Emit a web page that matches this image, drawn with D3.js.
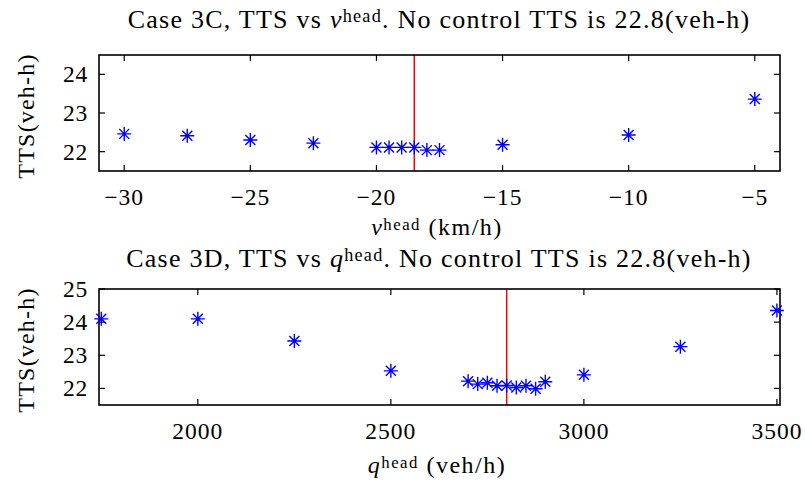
<!DOCTYPE html>
<html><head><meta charset="utf-8">
<script src="https://cdn.jsdelivr.net/npm/d3@7"></script>
<style>body{margin:0;background:#fff}svg{display:block}</style></head>
<body>
<svg id="c" width="805" height="481"></svg>
<script>
// ---- data ----
const vHead = [-30, -27.5, -25, -22.5, -20, -19.5, -19, -18.5, -18, -17.5, -15, -10, -5];
const ttsV  = [22.46, 22.41, 22.30, 22.22, 22.11, 22.11, 22.11, 22.11, 22.04, 22.04, 22.18, 22.43, 23.36];
const qHead = [1750, 2000, 2250, 2500, 2700, 2725, 2750, 2775, 2800, 2825, 2850, 2875, 2900, 3000, 3250, 3500];
const ttsQ  = [24.10, 24.10, 23.43, 22.53, 22.22, 22.13, 22.17, 22.08, 22.09, 22.03, 22.08, 21.99, 22.20, 22.41, 23.26, 24.35];
const vTicks = [-30, -25, -20, -15, -10, -5];
const qTicks = [2000, 2500, 3000, 3500];
const yTicksTop = [22, 23, 24];
const yTicksBot = [22, 23, 24, 25];
const vOpt = -18.5;
const qOpt = 2800;
const noControlTTS = 22.8;

const svg = d3.select("#c");
const FONT = "'Liberation Serif', 'Times New Roman', serif";

function richText(sel, parts) {
  parts.forEach(p => {
    const t = sel.append("tspan").text(p.t);
    if (p.i) t.attr("font-style", "italic");
    if (p.sup) t.attr("font-size", "70%").attr("baseline-shift", "32%");
  });
}

function panel(o) {
  const g = svg.append("g");
  const x = d3.scaleLinear().domain(o.xDom).range([99, 780]);
  const y = d3.scaleLinear().domain(o.yDom).range([o.y1, o.y0]);
  const tl = 6;
  o.xTicks.forEach(v => {
    g.append("line").attr("x1", x(v)).attr("x2", x(v)).attr("y1", o.y1).attr("y2", o.y1 - tl).attr("stroke", "#000").attr("stroke-width", 1.2);
    g.append("line").attr("x1", x(v)).attr("x2", x(v)).attr("y1", o.y0).attr("y2", o.y0 + tl).attr("stroke", "#000").attr("stroke-width", 1.2);
    g.append("text").attr("x", x(v)).attr("y", o.y1 + 34).attr("text-anchor", "middle")
      .attr("font-family", FONT).attr("font-size", 23.5).attr("letter-spacing", 1)
      .text(String(v).replace("-", "\u2212"));
  });
  o.yTicks.forEach(v => {
    g.append("line").attr("x1", 99).attr("x2", 99 + tl).attr("y1", y(v)).attr("y2", y(v)).attr("stroke", "#000").attr("stroke-width", 1.2);
    g.append("line").attr("x1", 780).attr("x2", 780 - tl).attr("y1", y(v)).attr("y2", y(v)).attr("stroke", "#000").attr("stroke-width", 1.2);
    g.append("text").attr("x", 88).attr("y", y(v) + 8).attr("text-anchor", "end")
      .attr("font-family", FONT).attr("font-size", 23.5).attr("letter-spacing", 0.8).text(v);
  });
  g.append("line").attr("x1", x(o.opt)).attr("x2", x(o.opt)).attr("y1", o.y0).attr("y2", o.y1)
    .attr("stroke", "#ff0000").attr("stroke-width", 1.5);
  g.append("rect").attr("x", 99).attr("y", o.y0).attr("width", 681).attr("height", o.y1 - o.y0)
    .attr("fill", "none").attr("stroke", "#000").attr("stroke-width", 1.6);
  const star = "M-7,0H7M0,-7V7M-5,-5L5,5M-5,5L5,-5";
  g.selectAll("path.m").data(o.xs.map((v, i) => [v, o.ys[i]])).enter().append("path")
    .attr("class", "m").attr("d", star)
    .attr("transform", d => `translate(${x(d[0])},${y(d[1])})`)
    .attr("stroke", "#0000ff").attr("stroke-width", 1.4).attr("fill", "none");
  const t = g.append("text").attr("x", 439).attr("y", o.titleY).attr("text-anchor", "middle")
    .attr("font-family", FONT).attr("font-size", 26).attr("letter-spacing", 1.25);
  richText(t, o.title);
  const xl = g.append("text").attr("x", 437).attr("y", o.xlY).attr("text-anchor", "middle")
    .attr("font-family", FONT).attr("font-size", 24).attr("letter-spacing", 1.5);
  richText(xl, o.xlabel);
  g.append("text").attr("transform", `translate(34,${(o.y0 + o.y1) / 2 + 3}) rotate(-90)`)
    .attr("text-anchor", "middle").attr("font-family", FONT).attr("font-size", 24)
    .attr("letter-spacing", 1.2).text("TTS(veh-h)");
}

panel({
  xDom: [-31, -4], yDom: [21.5, 24.5], y0: 55, y1: 171, titleY: 28, xlY: 235,
  xTicks: vTicks, yTicks: yTicksTop, xs: vHead, ys: ttsV, opt: vOpt,
  title: [{t: "Case 3C, TTS vs "}, {t: "v", i: true}, {t: "head", sup: true}, {t: ". No control TTS is " + noControlTTS + "(veh-h)"}],
  xlabel: [{t: "v", i: true}, {t: "head", sup: true}, {t: " (km/h)"}]
});
panel({
  xDom: [1744, 3508], yDom: [21.5, 25], y0: 289, y1: 405, titleY: 267, xlY: 473,
  xTicks: qTicks, yTicks: yTicksBot, xs: qHead, ys: ttsQ, opt: qOpt,
  title: [{t: "Case 3D, TTS vs "}, {t: "q", i: true}, {t: "head", sup: true}, {t: ". No control TTS is " + noControlTTS + "(veh-h)"}],
  xlabel: [{t: "q", i: true}, {t: "head", sup: true}, {t: " (veh/h)"}]
});
</script>
</body></html>
